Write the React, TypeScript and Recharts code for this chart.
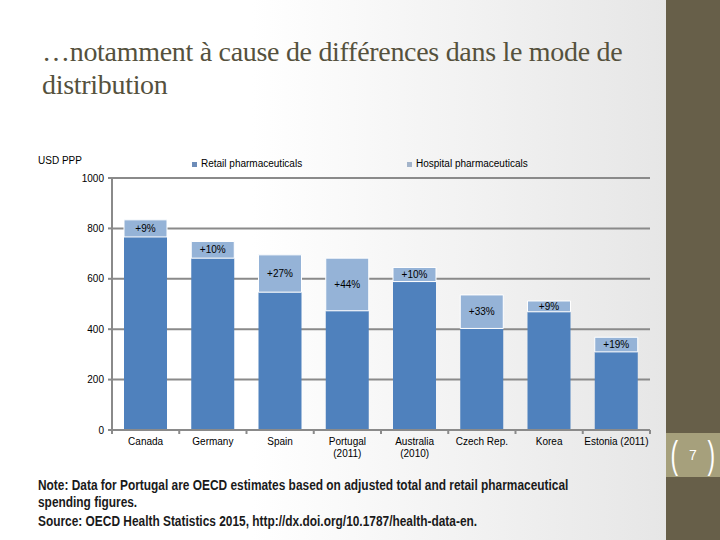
import React from 'react';
import { BarChart, Bar, XAxis, YAxis, CartesianGrid, Legend, LabelList } from 'recharts';

const countries = ['Canada', 'Germany', 'Spain', 'Portugal\n(2011)', 'Australia\n(2010)', 'Czech Rep.', 'Korea', 'Estonia (2011)'];
const retail = [766, 682, 547, 473, 589, 403, 469, 310];
const hospital = [68, 66, 148, 209, 56, 133, 43, 58];
const hospitalShare = ['+9%', '+10%', '+27%', '+44%', '+10%', '+33%', '+9%', '+19%'];
const yTicks = [0, 200, 400, 600, 800, 1000];

const RETAIL_COLOR = '#4F81BD';
const HOSPITAL_COLOR = '#95B3D7';
const GRID = '#8a8a8a';
const PLOT_LEFT = 112;
const PLOT_RIGHT = 650;
const SANS = "'Liberation Sans', Arial, sans-serif";

const data = countries.map((name, i) => ({
  name,
  retail: retail[i],
  hospital: hospital[i],
  share: hospitalShare[i],
}));

const CountryTick = (props: any) => {
  const { x, payload, index } = props;
  const half = (PLOT_RIGHT - PLOT_LEFT) / countries.length / 2;
  const lines = String(payload.value).split('\n');
  const axisY = 430;
  return (
    <g>
      <line x1={x - half} x2={x - half} y1={axisY} y2={axisY + 4} stroke={GRID} strokeWidth={2} />
      {index === countries.length - 1 && (
        <line x1={x + half} x2={x + half} y1={axisY} y2={axisY + 4} stroke={GRID} strokeWidth={2} />
      )}
      <text x={x} y={axisY + 15} textAnchor="middle" fontSize={10} fill="#000" fontFamily={SANS}>
        {lines.map((l, i) => (
          <tspan key={i} x={x} dy={i === 0 ? 0 : 12}>{l}</tspan>
        ))}
      </text>
    </g>
  );
};

const LegendContent = () => (
  <div style={{ position: 'relative', height: 14, fontFamily: SANS, fontSize: 10, color: '#000' }}>
    <div style={{ position: 'absolute', left: 192, top: 0, whiteSpace: 'nowrap' }}>
      <span style={{ display: 'inline-block', width: 5, height: 5, background: '#6d8cb8', marginRight: 4, verticalAlign: 'middle' }} />
      Retail pharmaceuticals
    </div>
    <div style={{ position: 'absolute', left: 407, top: 0, whiteSpace: 'nowrap' }}>
      <span style={{ display: 'inline-block', width: 5, height: 5, background: '#a3b4ca', marginRight: 4, verticalAlign: 'middle' }} />
      Hospital pharmaceuticals
    </div>
  </div>
);

export default function App() {
  return (
    <div
      style={{
        position: 'fixed',
        left: 0,
        top: 0,
        width: 720,
        height: 540,
        overflow: 'hidden',
        background: 'linear-gradient(to right, #ffffff 35%, #e6e6e6 93%)',
      }}
    >
      <div
        style={{
          position: 'absolute',
          left: 42,
          top: 35,
          width: 610,
          fontFamily: "'Liberation Serif', 'DejaVu Serif', serif",
          fontSize: 28,
          lineHeight: '33px',
          color: '#55513d',
          letterSpacing: -0.3,
        }}
      >
        …notamment à cause de différences dans le mode de distribution
      </div>
      <div style={{ position: 'absolute', left: 38, top: 155, fontFamily: SANS, fontSize: 10 }}>
        USD PPP
      </div>
      <div style={{ position: 'absolute', left: 0, top: 0 }}>
        <BarChart width={720} height={540} data={data} margin={{ top: 164, right: 70, bottom: 80, left: 62 }}>
          <CartesianGrid vertical={false} stroke={GRID} strokeWidth={2} />
          <XAxis
            dataKey="name"
            height={30}
            interval={0}
            tickLine={false}
            axisLine={{ stroke: GRID, strokeWidth: 2 }}
            tick={<CountryTick />}
          />
          <YAxis
            width={50}
            domain={[0, 1000]}
            ticks={yTicks}
            tickSize={4}
            tickMargin={4}
            tickLine={{ stroke: GRID, strokeWidth: 2 }}
            axisLine={{ stroke: GRID, strokeWidth: 2 }}
            tick={{ fontSize: 10, fill: '#000', fontFamily: SANS }}
          />
          <Legend verticalAlign="top" wrapperStyle={{ position: 'absolute', top: 158, left: 0, width: 720 }} content={<LegendContent />} />
          <Bar dataKey="retail" stackId="a" fill={RETAIL_COLOR} barSize={43} isAnimationActive={false} />
          <Bar dataKey="hospital" stackId="a" fill={HOSPITAL_COLOR} stroke="#ffffff" strokeWidth={1} barSize={43} isAnimationActive={false}>
            <LabelList dataKey="share" position="center" fontSize={10} fill="#000" fontFamily={SANS} />
          </Bar>
        </BarChart>
      </div>
      <div
        style={{
          position: 'absolute',
          left: 38,
          top: 477,
          fontFamily: SANS,
          fontWeight: 'bold',
          fontSize: 14,
          lineHeight: '17px',
          color: '#1a1a1a',
          whiteSpace: 'nowrap',
          transform: 'scaleX(0.85)',
          transformOrigin: 'left top',
        }}
      >
        <div>Note: Data for Portugal are OECD estimates based on adjusted total and retail pharmaceutical</div>
        <div>spending figures.</div>
        <div style={{ marginTop: 2 }}>Source: OECD Health Statistics 2015, http://dx.doi.org/10.1787/health-data-en.</div>
      </div>
      <div style={{ position: 'absolute', left: 666, top: 0, width: 54, height: 540, background: '#675f49' }} />
      <div
        style={{
          position: 'absolute',
          left: 666,
          top: 433,
          width: 54,
          height: 44,
          background: '#a6a07c',
          color: '#ffffff',
          fontFamily: SANS,
          display: 'flex',
          alignItems: 'center',
          justifyContent: 'center',
          gap: 8,
        }}
      >
        <span style={{ fontSize: 38, lineHeight: '38px', transform: 'scaleX(0.6)' }}>(</span>
        <span style={{ fontSize: 14 }}>7</span>
        <span style={{ fontSize: 38, lineHeight: '38px', transform: 'scaleX(0.6)' }}>)</span>
      </div>
    </div>
  );
}
